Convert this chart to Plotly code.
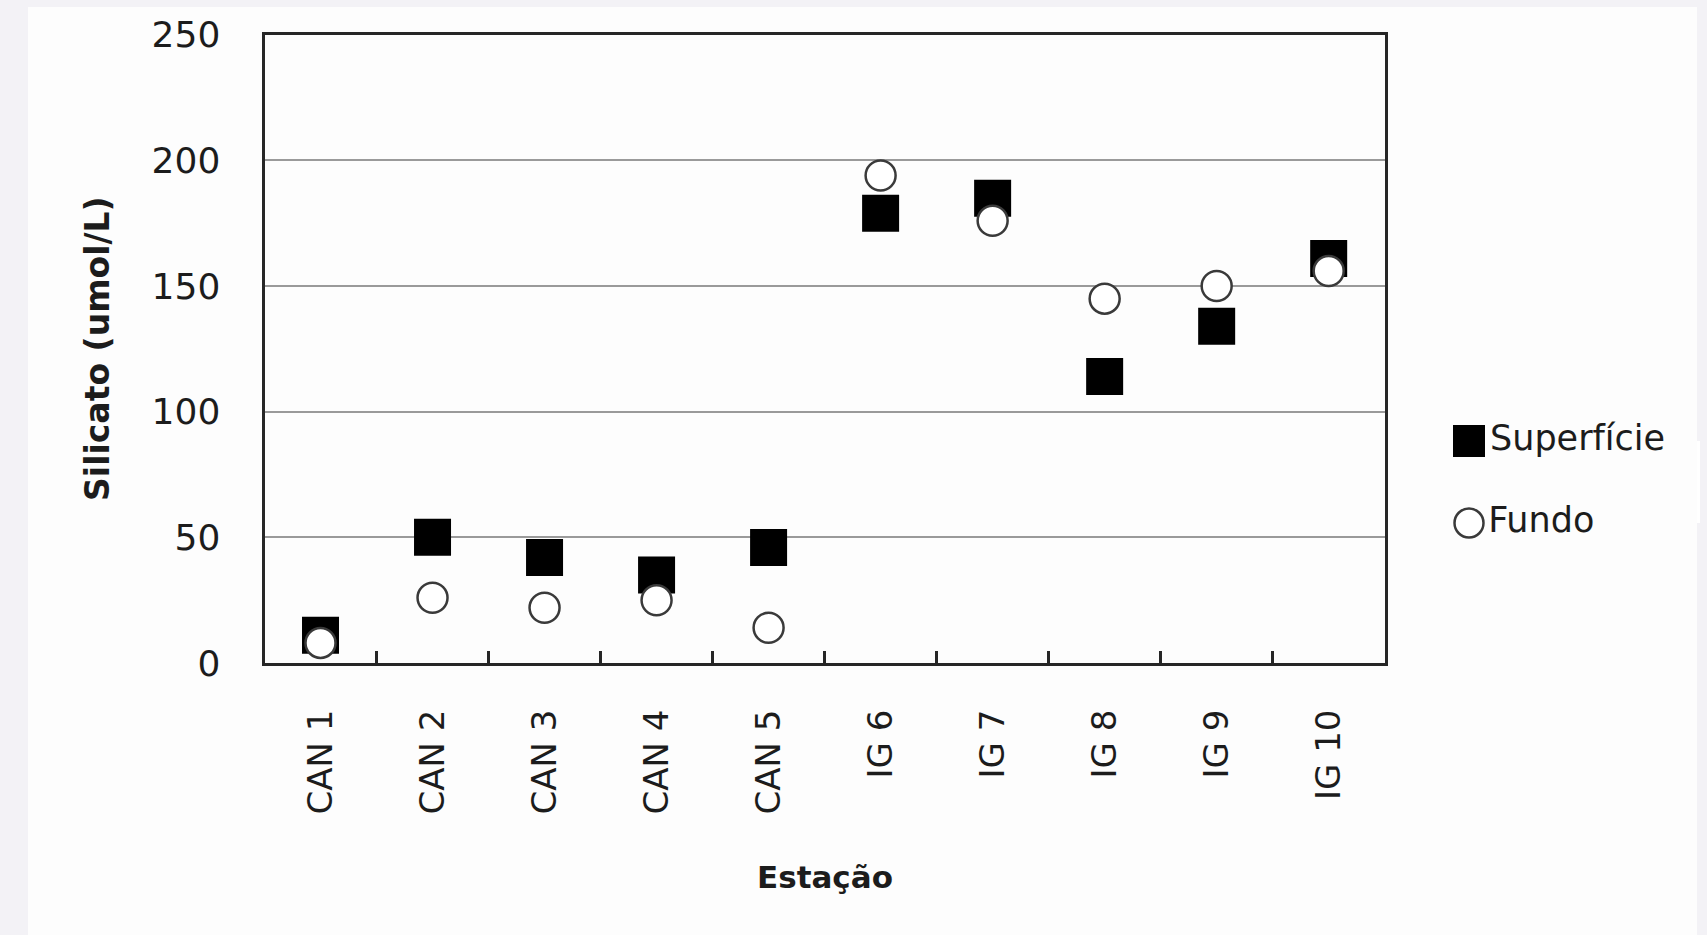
import plotly.graph_objects as go

# Stations and silicate concentrations (umol/L)
estacoes = ["CAN 1", "CAN 2", "CAN 3", "CAN 4", "CAN 5",
            "IG 6", "IG 7", "IG 8", "IG 9", "IG 10"]
superficie = [11, 50, 42, 35, 46, 179, 185, 114, 134, 161]
fundo = [8, 26, 22, 25, 14, 194, 176, 145, 150, 156]

y_ticks = [0, 50, 100, 150, 200, 250]
series_names = ["Superfície", "Fundo"]

W, H = 1707, 935
TEXT = "#1c1c1c"
YTICK_FONT = dict(family="DejaVu Sans", size=36, color=TEXT)
XTICK_FONT = dict(family="DejaVu Sans", size=34, color=TEXT)

square_marker = dict(symbol="square", size=37, color="black",
                     line=dict(width=0))
circle_marker = dict(symbol="circle", size=30, color="white",
                     line=dict(width=2.5, color="#3a3a3a"))

fig = go.Figure()

fig.add_trace(go.Scatter(
    x=estacoes, y=superficie, mode="markers", name=series_names[0],
    marker=square_marker, cliponaxis=False, showlegend=False,
))
fig.add_trace(go.Scatter(
    x=estacoes, y=fundo, mode="markers", name=series_names[1],
    marker=circle_marker, cliponaxis=False, showlegend=False,
))

# Key drawn on its own small hidden axes so the symbols keep full size
key_rows = [1, 0]
key_markers = [dict(square_marker, size=32), dict(circle_marker, size=29)]
for name, row, mk in zip(series_names, key_rows, key_markers):
    fig.add_trace(go.Scatter(
        x=[0], y=[row], mode="markers+text", text=[name],
        textposition="middle right",
        textfont=dict(family="DejaVu Sans", size=35, color=TEXT),
        marker=mk, xaxis="x2", yaxis="y2", cliponaxis=False,
        showlegend=False, hoverinfo="skip",
    ))

x0, x1 = 264.5 / W, 1384.7 / W
y0, y1 = (H - 663) / H, (H - 34.8) / H

fig.update_layout(
    template="none",
    width=W, height=H,
    margin=dict(l=0, r=0, t=0, b=0, pad=0),
    paper_bgcolor="#f3f2f6",
    plot_bgcolor="white",
    showlegend=False,
    xaxis=dict(
        domain=[x0, x1], automargin=False,
        type="category",
        range=[-0.5, len(estacoes) - 0.5],
        showgrid=False, zeroline=False,
        showline=True, linecolor="#262626", linewidth=3, mirror=True,
        ticks="inside", tickson="boundaries", ticklen=12,
        tickwidth=2.5, tickcolor="#262626",
        tickangle=-90, tickfont=XTICK_FONT, ticklabelstandoff=30,
    ),
    yaxis=dict(
        domain=[y0, y1], automargin=False,
        range=[0, 250],
        tickvals=y_ticks,
        showgrid=True, gridcolor="#9a9a9a", gridwidth=2,
        zeroline=False,
        showline=True, linecolor="#262626", linewidth=3, mirror=True,
        ticks="", tickfont=YTICK_FONT, ticklabelstandoff=34,
    ),
    xaxis2=dict(domain=[1469 / W, 1700 / W], range=[0, 1], visible=False,
                anchor="y2", automargin=False),
    yaxis2=dict(domain=[(H - 523) / H, (H - 441) / H], range=[0, 1],
                visible=False, anchor="x2", automargin=False),
    shapes=[dict(
        type="rect", xref="paper", yref="paper", layer="below",
        x0=28 / W, x1=1697 / W, y0=0, y1=(H - 7) / H,
        fillcolor="#fdfdfd", line=dict(width=0),
    )],
    annotations=[
        dict(text="<b>Estação</b>", xref="paper", yref="paper",
             x=(x0 + x1) / 2, y=(H - 877) / H, showarrow=False,
             font=dict(family="DejaVu Sans", size=31, color=TEXT),
             xanchor="center", yanchor="middle"),
        dict(text="<b>Silicato (umol/L)</b>", xref="paper", yref="paper",
             x=98 / W, y=(y0 + y1) / 2, showarrow=False, textangle=-90,
             font=dict(family="DejaVu Sans", size=33, color=TEXT),
             xanchor="center", yanchor="middle"),
    ],
)

fig.write_html("out.html")
